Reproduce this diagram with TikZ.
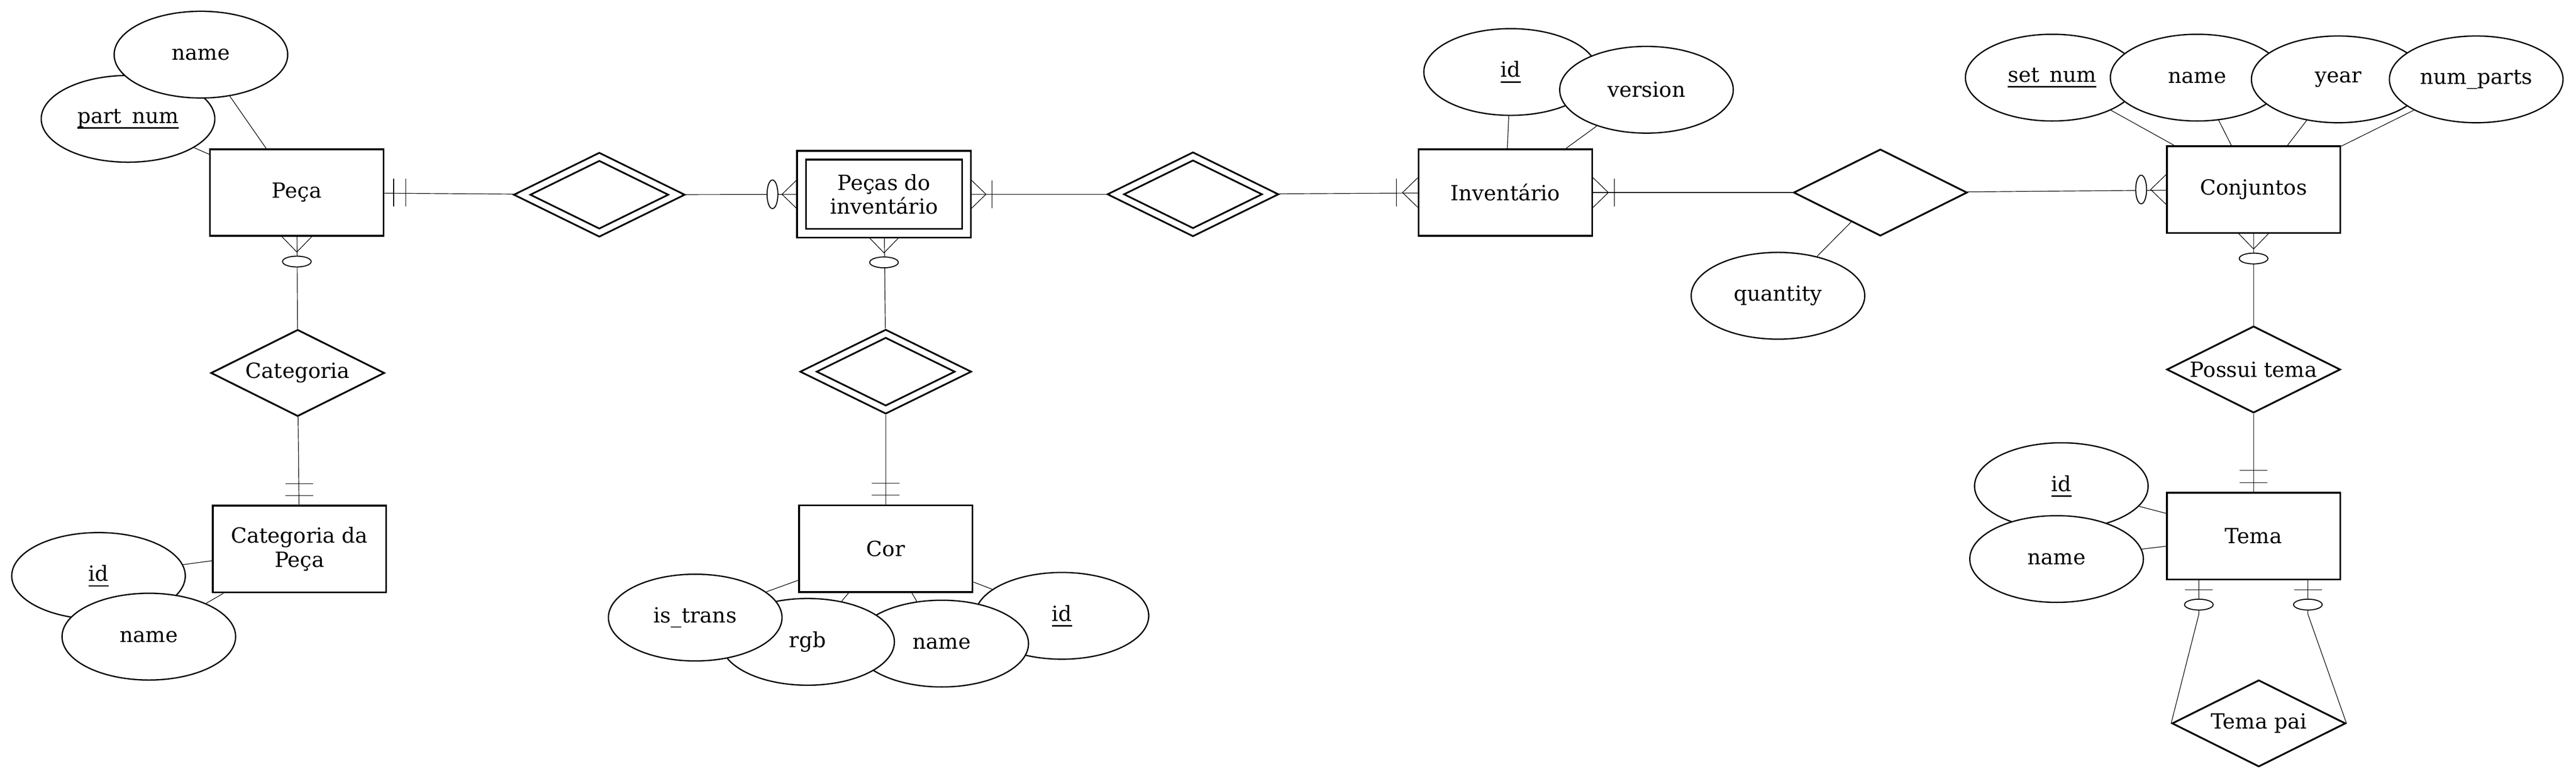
\documentclass[tikz,border=0pt]{standalone}
\usepackage{fontspec}
\setmainfont{DejaVu Serif}
\usetikzlibrary{shapes.geometric,backgrounds}
\newcommand\keyattr[1]{\setbox0\hbox{#1}\rlap{\rule[-3.6pt]{\wd0}{.95pt}}\box0}
\tikzset{
  pics/many/.style={code={\draw (0,.34) -- (.35,0) -- (0,-.34);}},
  pics/onemany/.style={code={\draw (0,.34) -- (.35,0) -- (0,-.34) (.49,.32) -- (.49,-.32);}},
  pics/zeromany/.style={code={\draw (0,.34) -- (.35,0) -- (0,-.34);
      \draw[line width=.65pt,fill=white] (.57,0) ellipse (.125 and .33);}},
  pics/onlyone/.style={code={\draw (.21,.32) -- (.21,-.32) (.49,.32) -- (.49,-.32);}},
  pics/zeroone/.style={code={\draw (.22,.32) -- (.22,-.32);
      \draw[line width=.65pt,fill=white] (.56,0) ellipse (.125 and .33);}},
}
\begin{document}
\begin{tikzpicture}[line width=1.1pt, font=\fontsize{13.7}{15.7}\selectfont,
  ent/.style={draw, rectangle, minimum width=4cm, minimum height=2cm, inner sep=0pt, fill=white, align=center, line width=1.2pt},
  went/.style={ent, double, double distance=.16cm, minimum width=3.8cm, minimum height=1.8cm, outer sep=.1cm},
  rel/.style={draw, diamond, aspect=2, minimum width=4cm, minimum height=2cm, inner sep=0pt, fill=white, line width=1.15pt},
  wrel/.style={rel, double, double distance=.125cm, minimum width=3.63cm, minimum height=1.82cm, outer sep=.09cm},
  attr/.style={draw, ellipse, minimum width=4cm, minimum height=2cm, inner sep=0pt, fill=white, line width=.85pt}]

\useasboundingbox (0,0) rectangle (59.36,-17.96);

  \node[ent] (peca) at (6.84,-4.44) {Peça};
  \node[attr] (ppart) at (2.95,-2.74) {\keyattr{part\_num}};
  \node[attr] (pname) at (4.63,-1.26) {name};
  \node[wrel] (r1) at (13.81,-4.49) {};
  \node[went] (pdi) at (20.37,-4.48) {Peças do\\inventário};
  \node[wrel] (r2) at (27.49,-4.48) {};
  \node[ent] (inv) at (34.69,-4.44) {Inventário};
  \node[attr] (iid) at (34.81,-1.66) {\keyattr{id}};
  \node[attr] (iver) at (37.94,-2.07) {version};
  \node[rel] (r3) at (43.33,-4.44) {};
  \node[attr] (qty) at (40.97,-6.82) {quantity};
  \node[ent] (conj) at (51.93,-4.37) {Conjuntos};
  \node[attr] (csn) at (47.29,-1.79) {\keyattr{set\_num}};
  \node[attr] (cname) at (50.63,-1.79) {name};
  \node[attr] (cyear) at (53.88,-1.83) {year};
  \node[attr] (cnp) at (57.06,-1.83) {num\_parts};
  \node[rel] (rtema) at (51.93,-8.52) {Possui tema};
  \node[ent] (tema) at (51.93,-12.36) {Tema};
  \node[attr] (tid) at (47.50,-11.21) {\keyattr{id}};
  \node[attr] (tname) at (47.39,-12.89) {name};
  \node[rel] (rpai) at (52.05,-16.68) {Tema pai};
  \node[rel] (rcat) at (6.86,-8.60) {Categoria};
  \node[ent] (catp) at (6.90,-12.66) {Categoria da\\Peça};
  \node[attr] (kid) at (2.27,-13.28) {\keyattr{id}};
  \node[attr] (kname) at (3.43,-14.68) {name};
  \node[wrel] (rcor) at (20.41,-8.57) {};
  \node[ent] (cor) at (20.41,-12.65) {Cor};
  \node[attr] (cid) at (24.47,-14.20) {\keyattr{id}};
  \node[attr] (cnm) at (21.70,-14.84) {name};
  \node[attr] (crgb) at (18.61,-14.80) {rgb};
  \node[attr] (ctr) at (16.02,-14.24) {is\_trans};

\begin{pgfonlayer}{background}
  \draw (peca) -- (pname);
  \draw (peca) -- (ppart);
  \draw (inv) -- (iid);
  \draw (inv) -- (iver);
  \draw (r3) -- (qty);
  \draw (conj) -- (csn);
  \draw (conj) -- (cname);
  \draw (conj) -- (cyear);
  \draw (conj) -- (cnp);
  \draw (tema) -- (tid);
  \draw (tema) -- (tname);
  \draw (catp) -- (kid);
  \draw (catp) -- (kname);
  \draw (cor) -- (cid);
  \draw (cor) -- (cnm);
  \draw (cor) -- (crgb);
  \draw (cor) -- (ctr);
\end{pgfonlayer}

  \draw (peca) -- (r1);
  \draw (r1) -- (pdi);
  \draw (pdi) -- (r2);
  \draw (r2) -- (inv);
  \draw (inv) -- (r3);
  \draw (r3) -- (conj);
  \draw (peca) -- (rcat);
  \draw (rcat) -- (catp);
  \draw (pdi) -- (rcor);
  \draw (rcor) -- (cor);
  \draw (conj) -- (rtema);
  \draw (rtema) -- (tema);
  \coordinate (tl) at ([xshift=.76cm]tema.south west);
  \coordinate (tr) at ([xshift=-.77cm]tema.south east);
  \draw (tl) -- ++(0,-.78) -- (rpai.west);
  \draw (tr) -- ++(0,-.78) -- (rpai.east);

  \pic at (peca.east) {onlyone};
  \pic[rotate=180] at (pdi.west) {zeromany};
  \pic at (pdi.east) {onemany};
  \pic[rotate=180] at (inv.west) {onemany};
  \pic at (inv.east) {onemany};
  \pic[rotate=180] at (conj.west) {zeromany};
  \pic[rotate=-90] at (peca.south) {zeromany};
  \pic[rotate=90] at (catp.north) {onlyone};
  \pic[rotate=-90] at (pdi.south) {zeromany};
  \pic[rotate=90] at (cor.north) {onlyone};
  \pic[rotate=-90] at (conj.south) {zeromany};
  \pic[rotate=90] at (tema.north) {onlyone};
  \pic[rotate=-90] at (tl) {zeroone};
  \pic[rotate=-90] at (tr) {zeroone};
\end{tikzpicture}
\end{document}
